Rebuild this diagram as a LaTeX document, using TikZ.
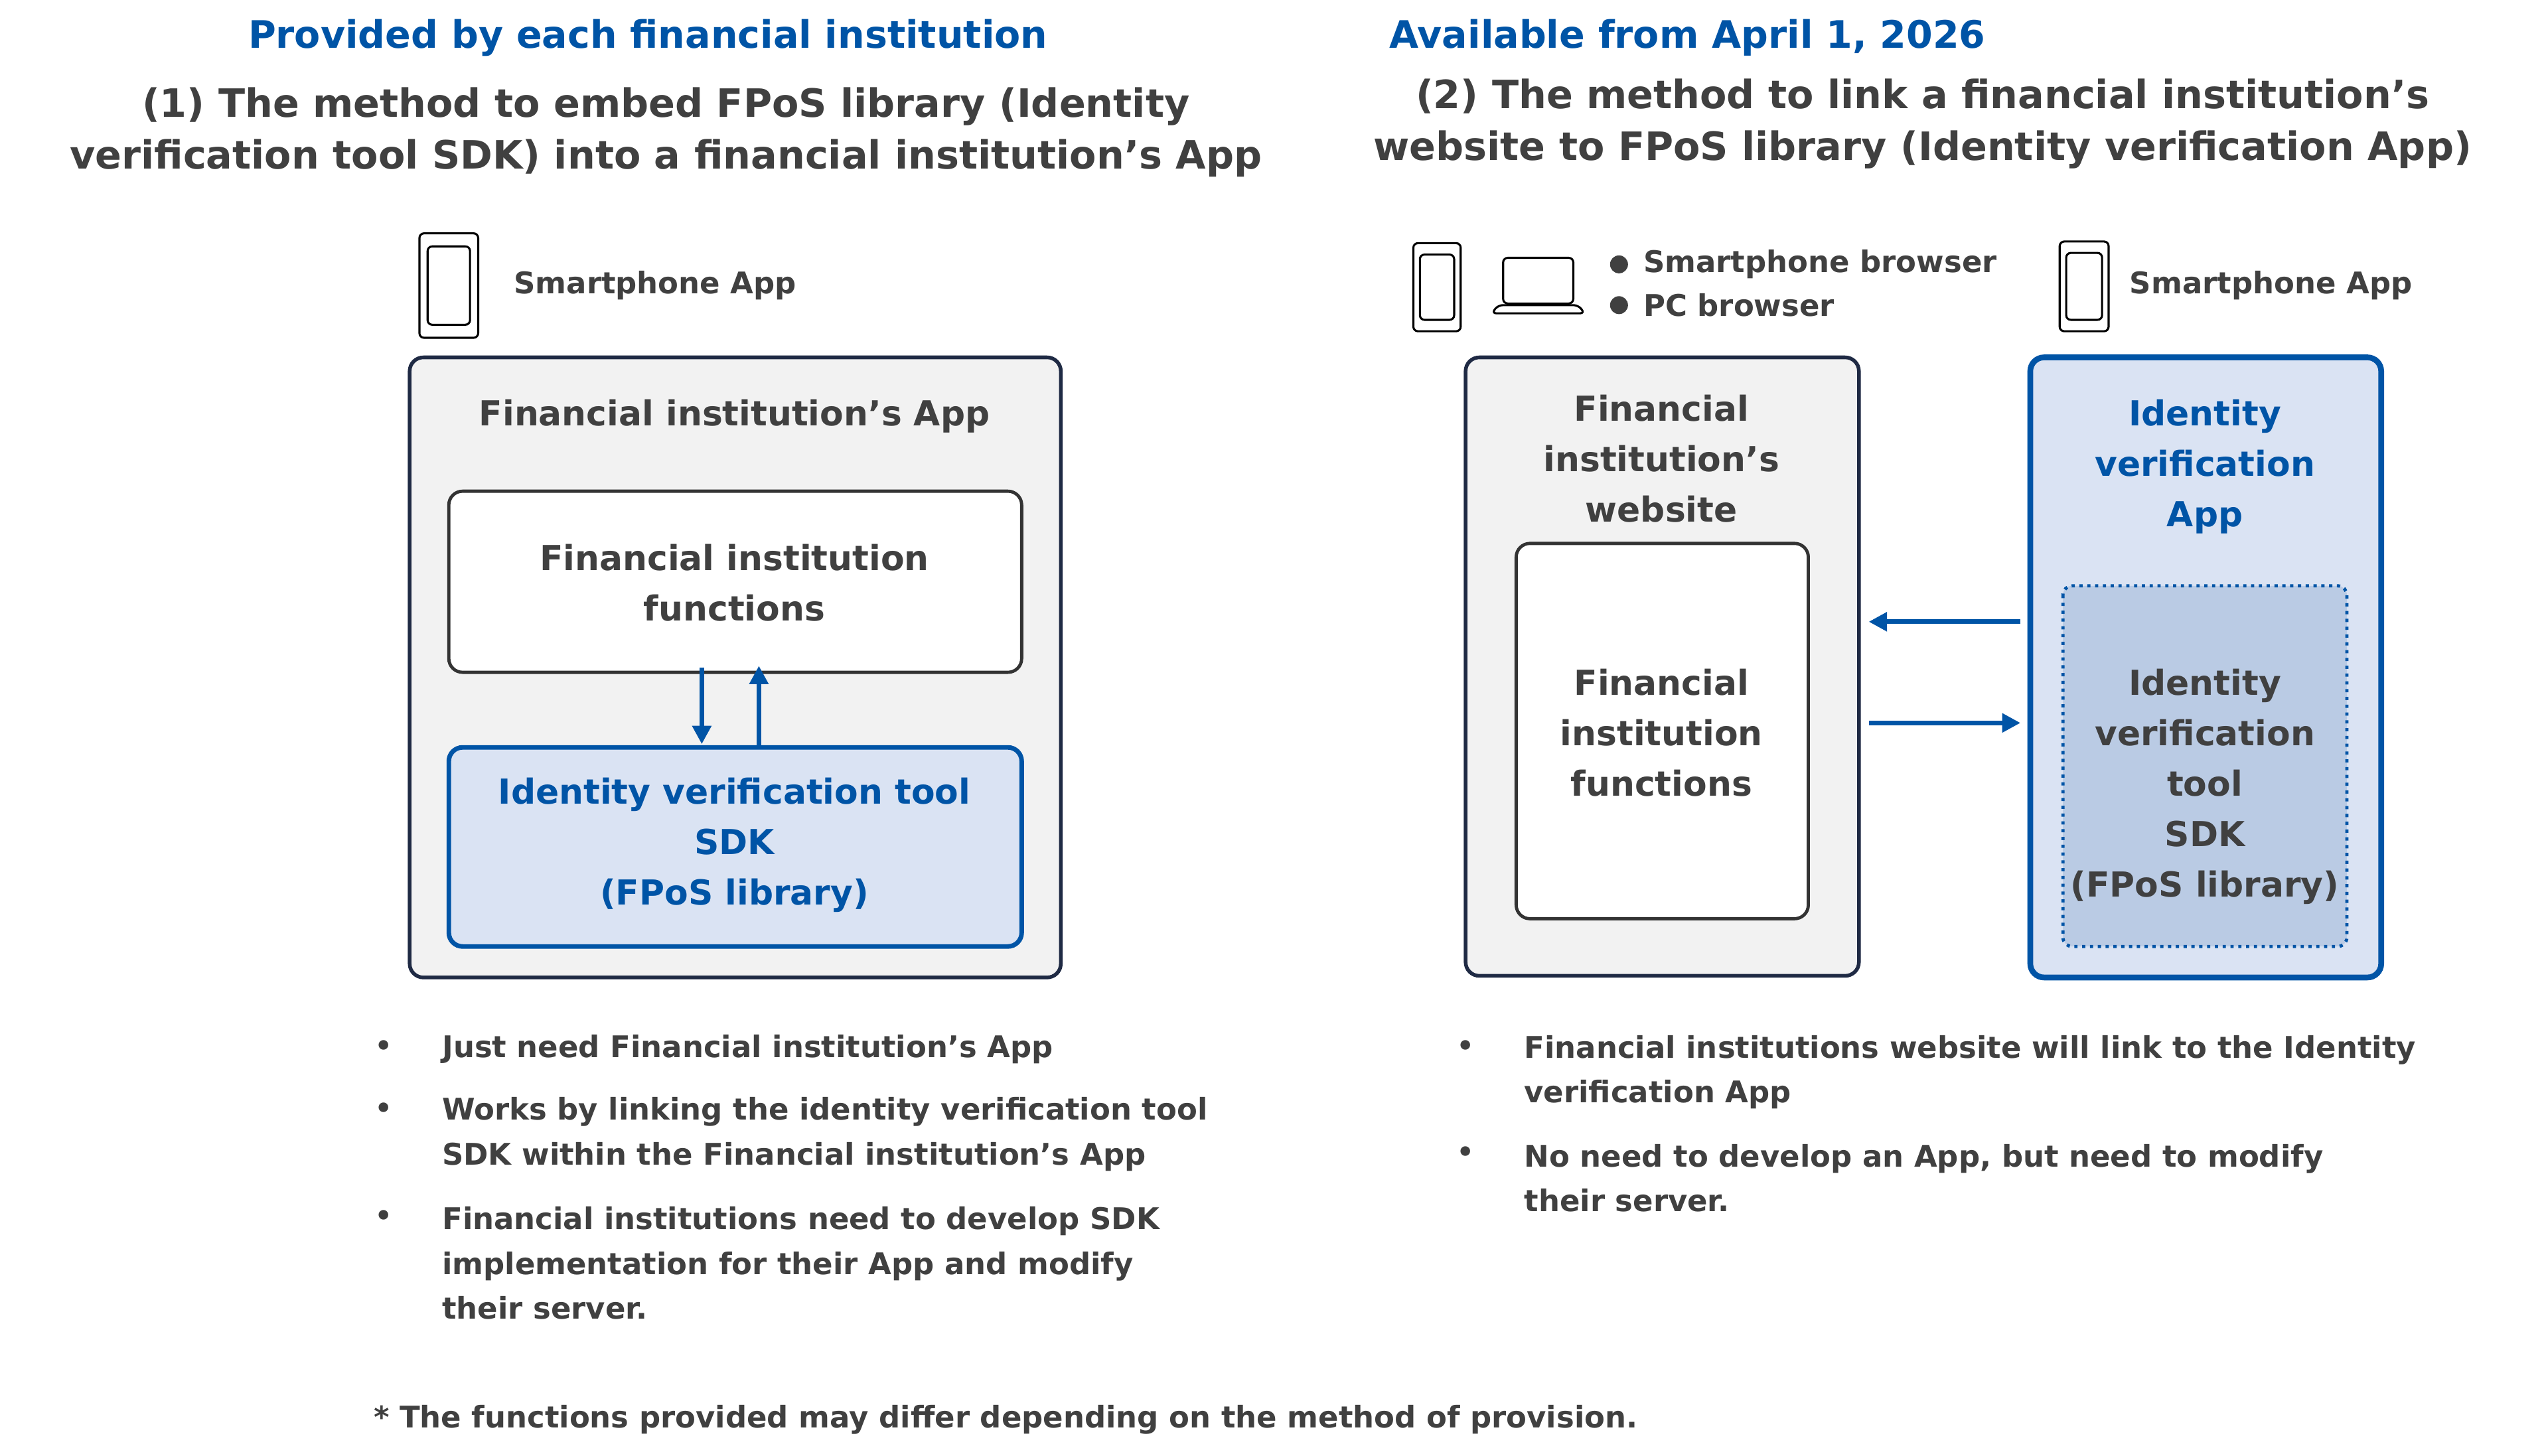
\documentclass[tikz,border=0pt]{standalone}
\usepackage{fontspec}
\setmainfont{DejaVu Sans}
\usetikzlibrary{arrows.meta}
\definecolor{navy}{RGB}{31,42,68}
\definecolor{fiblue}{RGB}{0,84,166}
\definecolor{txt}{RGB}{64,64,64}
\definecolor{paleblue}{RGB}{218,227,243}
\definecolor{midblue}{RGB}{186,203,228}
\definecolor{boxgray}{RGB}{242,242,242}
\begin{document}
\begin{tikzpicture}[x=0.025cm,y=-0.025cm,
  heading/.style={text=fiblue,font=\bfseries\fontsize{16.5}{19}\selectfont},
  method/.style={text=txt,align=center,font=\bfseries\fontsize{17}{22.5}\selectfont},
  boxtext/.style={text=txt,align=center,font=\bfseries\fontsize{15}{22}\selectfont},
  note/.style={text=txt,anchor=west,align=left,font=\bfseries\fontsize{13}{19.5}\selectfont},
  outer/.style={draw=navy,line width=1.6pt,rounded corners=6pt,fill=boxgray},
  inner/.style={draw=txt!80!black,line width=1.4pt,rounded corners=6pt,fill=white},
  sdk/.style={draw=fiblue,line width=2pt,rounded corners=6pt,fill=paleblue},
  flow/.style={draw=fiblue,line width=2pt,-{Triangle[length=8pt,width=8pt]}},
  device/.style={draw=black,line width=0.9pt,rounded corners=2pt}]
\useasboundingbox (0,0) rectangle (1560,892);
% headings
\node[heading] (headL) at (397,23) {Provided by each financial institution};
\node[heading] (headR) at (1034,23) {Available from April 1, 2026};
\node[method] (methodL) at (408,81) {(1)\ The method to embed FPoS library (Identity\\verification tool SDK) into a financial institution’s App};
\node[method] (methodR) at (1178,76) {(2)\ The method to link a financial institution’s\\website to FPoS library (Identity verification App)};
% devices, left
\draw[device] (257,143) rectangle (293,207);
\draw[device] (262,151) rectangle (288,199);
\node[note] (appL) at (310,175) {Smartphone App};
% left method
\draw[outer] (251,219) rectangle (650,599);
\node[boxtext] (titleL) at (450,255) {Financial institution’s App};
\draw[inner] (275,301) rectangle (626,412);
\node[boxtext] (funcL) at (450,357) {Financial institution\\functions};
\draw[sdk] (275,458) rectangle (626,580);
\node[boxtext,text=fiblue] (sdkL) at (450,518) {Identity verification tool\\SDK\\(FPoS library)};
\coordinate (downA) at (430,409);
\coordinate (downB) at (430,456);
\coordinate (upA) at (465,458);
\coordinate (upB) at (465,408);
\draw[flow] (downA) -- (downB);
\draw[flow] (upA) -- (upB);
% devices, right
\draw[device] (866,149) rectangle (895,203);
\draw[device] (870,156) rectangle (891,196);
\draw[device] (921,158) rectangle (964,186);
\draw[device] (914,192) -- (971,192) -- (967,187) -- (918,187) -- cycle;
\fill[txt] (992,162) circle (5.5);
\fill[txt] (992,187) circle (5.5);
\node[note] (browserA) at (1002,162) {Smartphone browser};
\node[note] (browserB) at (1002,187) {PC browser};
\draw[device] (1262,148) rectangle (1292,203);
\draw[device] (1266,155) rectangle (1288,196);
\node[note] (appR) at (1300,175) {Smartphone App};
% right method
\draw[outer] (898,219) rectangle (1139,598);
\node[boxtext] (titleR) at (1018,281) {Financial\\institution’s\\website};
\draw[inner] (929,333) rectangle (1108,563);
\node[boxtext] (funcR) at (1018,449) {Financial\\institution\\functions};
\draw[sdk,line width=2.5pt] (1244,219) rectangle (1459,599);
\node[boxtext,text=fiblue] (appBlue) at (1351,286) {Identity\\verification\\App};
\draw[fiblue,line width=1.4pt,dotted,fill=midblue,rounded corners=4pt] (1264,359) rectangle (1438,580);
\node[boxtext] (sdkR) at (1351,482) {Identity\\verification\\tool\\SDK\\(FPoS library)};
\coordinate (leftA) at (1238,381);
\coordinate (leftB) at (1145,381);
\coordinate (rightA) at (1145,443);
\coordinate (rightB) at (1238,443);
\draw[flow] (leftA) -- (leftB);
\draw[flow] (rightA) -- (rightB);
% notes
\foreach \y in {643,681,747} \node[text=txt,font=\Large] at (235,\y) {\textbullet};
\foreach \y in {643,708} \node[text=txt,font=\Large] at (898,\y) {\textbullet};
\node[note] (noteA) at (266,643) {Just need Financial institution’s App};
\node[note] (noteB) at (266,695) {Works by linking the identity verification tool\\SDK within the Financial institution’s App};
\node[note] (noteC) at (266,774) {Financial institutions need to develop SDK\\implementation for their App and modify\\their server.};
\node[note] (noteD) at (929,657) {Financial institutions website will link to the Identity\\verification App};
\node[note] (noteE) at (929,722) {No need to develop an App, but need to modify\\their server.};
\node[note] (foot) at (224,870) {* The functions provided may differ depending on the method of provision.};
\end{tikzpicture}
\end{document}
